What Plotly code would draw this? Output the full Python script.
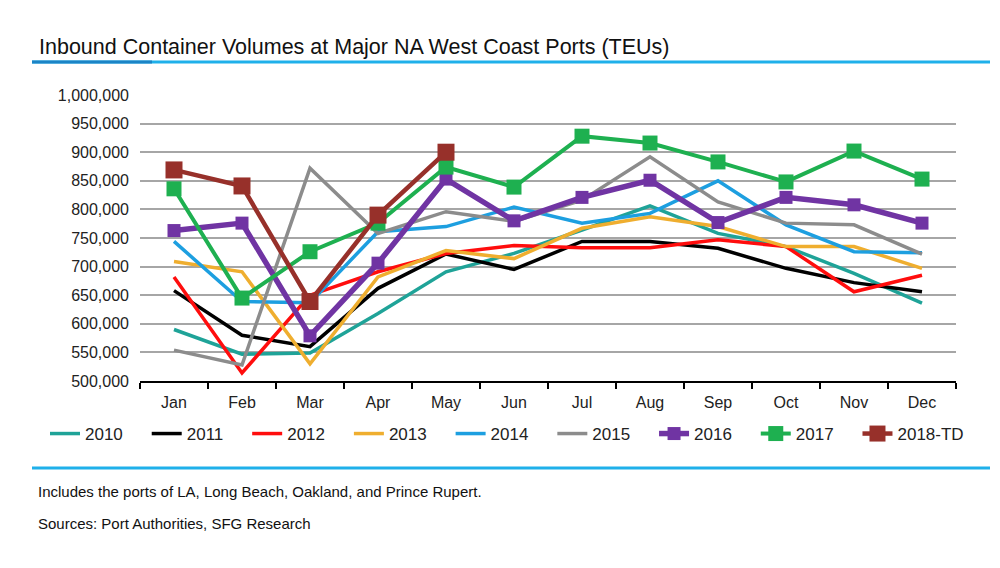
import plotly.graph_objects as go

months = ["Jan", "Feb", "Mar", "Apr", "May", "Jun", "Jul", "Aug", "Sep", "Oct", "Nov", "Dec"]

# monthly inbound TEUs
y2010 = [590000, 547000, 549000, 618000, 691000, 723000, 764000, 806000, 758000, 735000, 688000, 636000]
y2011 = [658000, 580000, 560000, 662000, 722000, 695000, 744000, 744000, 732000, 697000, 672000, 656000]
y2012 = [682000, 514000, 650000, 691000, 723000, 737000, 733000, 733000, 747000, 735000, 656000, 685000]
y2013 = [709000, 691000, 530000, 682000, 728000, 714000, 767000, 787000, 770000, 735000, 735000, 697000]
y2014 = [744000, 639000, 637000, 761000, 770000, 804000, 776000, 793000, 850000, 773000, 726000, 724000]
y2015 = [554000, 528000, 872000, 758000, 796000, 779000, 816000, 892000, 813000, 776000, 773000, 722000]
y2016 = [763000, 776000, 579000, 706000, 853000, 780000, 821000, 851000, 777000, 821000, 808000, 776000]
y2017 = [836000, 645000, 726000, 776000, 874000, 839000, 928000, 916000, 883000, 848000, 902000, 853000]
y2018 = [869000, 841000, 639000, 790000, 900000]

fig = go.Figure()

# trailing no-break spaces widen the legend entries like the original
pad = "\u00a0" * 4

# plain lines first, marker series on top
plain = [
    ("2010", y2010, "#1fa398"),
    ("2011", y2011, "#000000"),
    ("2012", y2012, "#ff0d0d"),
    ("2013", y2013, "#efae2f"),
    ("2014", y2014, "#1d9fe0"),
    ("2015", y2015, "#8c8c8c"),
]
for name, vals, col in plain:
    fig.add_trace(go.Scatter(x=months[:len(vals)], y=vals, name=name + pad, mode="lines",
                             line=dict(color=col, width=3.5)))

marked = [
    ("2016", y2016, "#7034a3", 5.5, 13),
    ("2017", y2017, "#1eb050", 4, 15),
    ("2018-TD", y2018, "#97302a", 4.5, 17),
]
for name, vals, col, w, ms in marked:
    label = name if name == "2018-TD" else name + pad
    fig.add_trace(go.Scatter(x=months[:len(vals)], y=vals, name=label, mode="lines+markers",
                             line=dict(color=col, width=w),
                             marker=dict(symbol="square", size=ms, color=col)))

PW, PH = 816, 286  # plot area size in px

fig.update_layout(
    width=1000, height=568,
    margin=dict(l=132, r=52, t=87, b=195, autoexpand=False),
    paper_bgcolor="white", plot_bgcolor="white",
    font=dict(family="Liberation Sans, Arial", size=16, color="#222222"),
    showlegend=True,
    legend=dict(orientation="h", xref="paper", x=-95 / PW, xanchor="left",
                yref="paper", y=-53 / PH, yanchor="middle", font=dict(size=17),
                itemwidth=30, tracegroupgap=0),
    xaxis=dict(type="category", range=[-0.5, 11.5], showline=True, linecolor="black", linewidth=2,
               ticks="outside", tickson="boundaries", ticklen=6, tickwidth=1.5,
               tickcolor="black", showgrid=False, tickfont=dict(size=16),
               ticklabelstandoff=6),
    yaxis=dict(range=[500000, 1000000], dtick=50000, tickformat=",d",
               showgrid=True, gridcolor="#a6a6a6", gridwidth=2, zeroline=False,
               ticks="", showline=False, tickfont=dict(size=16), ticklabelstandoff=10),
)

# title and the blue rules
narrow = "Liberation Sans Narrow, Liberation Sans"
fig.add_annotation(text="Inbound Container Volumes at Major NA West Coast Ports (TEUs)",
                   xref="paper", yref="paper", x=-103 / PW, y=1 + 48 / PH, xanchor="left", yanchor="middle",
                   showarrow=False, font=dict(family=narrow, size=21.5, color="#111111"))
fig.add_shape(type="line", xref="paper", yref="paper", x0=-108 / PW, x1=850 / PW, y0=1 + 33 / PH, y1=1 + 33 / PH,
              line=dict(color="#1fb0ea", width=3))
fig.add_shape(type="line", xref="paper", yref="paper", x0=-108 / PW, x1=12 / PW, y0=1 + 33 / PH, y1=1 + 33 / PH,
              line=dict(color="#1b84c6", width=3))
fig.add_shape(type="line", xref="paper", yref="paper", x0=-108 / PW, x1=850 / PW, y0=-87 / PH, y1=-87 / PH,
              line=dict(color="#1fb0ea", width=3))

fig.add_annotation(text="Includes the ports of LA, Long Beach, Oakland, and Prince Rupert.",
                   xref="paper", yref="paper", x=-104 / PW, y=-110 / PH, xanchor="left", yanchor="middle",
                   showarrow=False, font=dict(family=narrow, size=15, color="#111111"))
fig.add_annotation(text="Sources: Port Authorities, SFG Research",
                   xref="paper", yref="paper", x=-104 / PW, y=-142 / PH, xanchor="left", yanchor="middle",
                   showarrow=False, font=dict(family=narrow, size=15, color="#111111"))

fig.write_html("out.html")
